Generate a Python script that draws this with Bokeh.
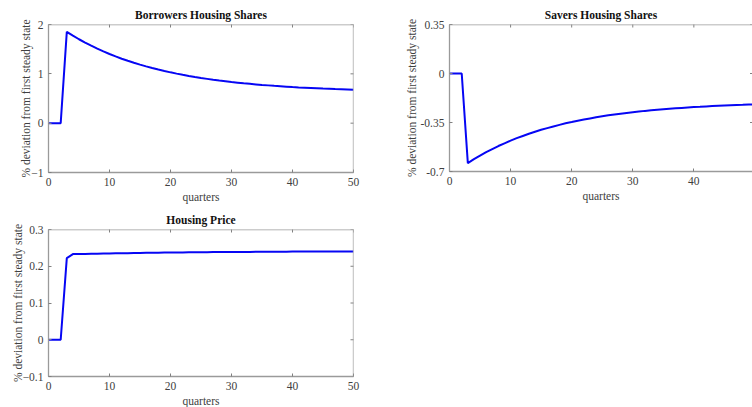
import math
from bokeh.plotting import figure
from bokeh.layouts import column, row
from bokeh.models import LinearAxis, FixedTicker, Range1d, Span
from bokeh.embed import file_html
from bokeh.resources import INLINE

quarters = list(range(0, 51))

borrowers = [0.0, 0.0, 0.0,
             1.850, 1.773, 1.701, 1.633, 1.570, 1.510, 1.455, 1.402, 1.353, 1.307,
             1.264, 1.224, 1.186, 1.151, 1.117, 1.086, 1.057, 1.030, 1.004, 0.980,
             0.957, 0.936, 0.916, 0.898, 0.880, 0.864, 0.849, 0.834, 0.821, 0.808,
             0.797, 0.786, 0.775, 0.766, 0.756, 0.748, 0.740, 0.732, 0.725, 0.719,
             0.713, 0.707, 0.701, 0.696, 0.691, 0.687, 0.683, 0.679]

savers = [0.0, 0.0, 0.0,
          -0.640, -0.612, -0.587, -0.562, -0.540, -0.518, -0.499, -0.480, -0.462, -0.446,
          -0.430, -0.416, -0.402, -0.390, -0.378, -0.367, -0.356, -0.347, -0.337, -0.329,
          -0.321, -0.313, -0.306, -0.299, -0.293, -0.287, -0.282, -0.277, -0.272, -0.267,
          -0.263, -0.259, -0.255, -0.252, -0.249, -0.246, -0.243, -0.240, -0.238, -0.235,
          -0.233, -0.231, -0.229, -0.227, -0.225, -0.224, -0.222, -0.221]

price = [0.0, 0.0, 0.0,
         0.222, 0.233, 0.2333, 0.2336, 0.2339, 0.2342, 0.2345, 0.2348, 0.2351, 0.2354,
         0.2357, 0.2360, 0.2363, 0.2365, 0.2367, 0.2369, 0.2371, 0.2373, 0.2375, 0.2377,
         0.2379, 0.2380, 0.2382, 0.2383, 0.2385, 0.2386, 0.2387, 0.2388, 0.2389, 0.2390,
         0.2391, 0.2392, 0.2393, 0.2394, 0.2395, 0.2396, 0.2397, 0.2398, 0.2398, 0.2399,
         0.2399, 0.2400, 0.2400, 0.2401, 0.2401, 0.2402, 0.2402, 0.2402]

x_ticks = [0, 10, 20, 30, 40, 50]
y_ticks_b = [-1, 0, 1, 2]
y_ticks_s = [-0.7, -0.35, 0, 0.35]
y_ticks_p = [-0.1, 0, 0.1, 0.2, 0.3]
y_tick_labels_s = {-0.7: "-0.7", -0.35: "-0.35", 0: "0", 0.35: "0.35"}

titles = ["Borrowers Housing Shares", "Savers Housing Shares", "Housing Price"]
ylabel = "% deviation from first steady state"
xlabel = "quarters"

FONT = "Liberation Serif"
BOX = "#9a9a9a"
TICK = "#808080"
TXT = "#404040"
LINE = "#0606f4"


def style_axis(ax, ticks):
    ax.ticker = FixedTicker(ticks=ticks)
    ax.axis_line_color = BOX
    ax.axis_line_width = 1.3
    ax.major_tick_line_color = TICK
    ax.major_tick_in = 3
    ax.major_tick_out = 0
    ax.minor_tick_line_color = None
    ax.major_label_text_font = FONT
    ax.major_label_text_color = TXT
    ax.major_label_text_font_size = "11.5px"
    ax.major_label_standoff = 5
    ax.axis_label_text_font = FONT
    ax.axis_label_text_font_style = "normal"
    ax.axis_label_text_color = TXT
    ax.axis_label_text_font_size = "11.5px"


def make(title, y, xr, yr, yt, fw, fh, bl, br, bt, bb, label_standoff,
         right_side=True, ylabels=None):
    p = figure(output_backend="svg", toolbar_location=None,
               frame_width=fw, frame_height=fh,
               min_border_left=bl, min_border_right=br,
               min_border_top=bt, min_border_bottom=bb,
               x_range=Range1d(*xr), y_range=Range1d(*yr),
               title=title, x_axis_location=None, y_axis_location=None)
    p.title.text_font = FONT
    p.title.text_font_style = "bold"
    p.title.text_font_size = "11.5px"
    p.title.text_color = "#111111"
    p.title.align = "center"
    p.title.standoff = 7
    p.outline_line_color = None
    p.grid.visible = False
    p.background_fill_color = "white"
    p.border_fill_color = "white"

    xb = LinearAxis(axis_label=xlabel)
    style_axis(xb, x_ticks)
    xb.axis_label_standoff = 2
    p.add_layout(xb, "below")
    yl = LinearAxis(axis_label=ylabel)
    style_axis(yl, yt)
    yl.axis_label_standoff = label_standoff
    if ylabels:
        yl.major_label_overrides = ylabels
    p.add_layout(yl, "left")

    # top border and inward ticks
    p.add_layout(Span(location=yr[1], dimension="width", line_color=BOX, line_width=1.3))
    p.scatter(x=x_ticks, y=[yr[1]] * len(x_ticks), marker="dash", angle=math.pi / 2,
              size=6, line_color=TICK, line_width=1)
    if right_side:
        p.add_layout(Span(location=xr[1], dimension="height", line_color=BOX, line_width=1.3))
        p.scatter(x=[xr[1]] * len(yt), y=yt, marker="dash", size=6,
                  line_color=TICK, line_width=1)
    else:
        p.scatter(x=[xr[1]] * len(yt), y=yt, marker="dash", size=5,
                  line_color=TICK, line_width=1)

    p.line(quarters, y, line_color=LINE, line_width=2)
    return p


p1 = make(titles[0], borrowers, (0, 50), (-1, 2), y_ticks_b,
          305, 148, 48, 42, 23, 34, -4)
p2 = make(titles[1], savers, (0, 49.6), (-0.7, 0.35), y_ticks_s,
          303, 147, 54, 0, 24, 34, 0, right_side=False, ylabels=y_tick_labels_s)
p3 = make(titles[2], price, (0, 50), (-0.1, 0.3), y_ticks_p,
          305, 147, 48, 42, 24, 31, -4)

layout = column(row(p1, p2, spacing=0), p3, spacing=0)
layout.styles = {"background-color": "white"}

open("out.html", "w").write(file_html(layout, INLINE))
